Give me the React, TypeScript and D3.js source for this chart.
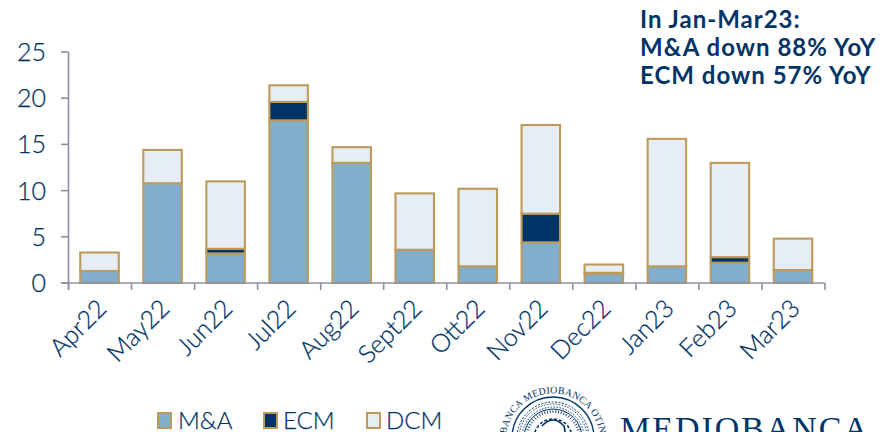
import React from "react";
import * as d3 from "d3";

const months = ["Apr22","May22","Jun22","Jul22","Aug22","Sept22","Ott22","Nov22","Dec22","Jan23","Feb23","Mar23"];
const mna = [1.3,10.8,3.2,17.6,13.0,3.6,1.8,4.4,1.0,1.8,2.2,1.4];
const ecm = [0,0,0.5,2.0,0,0,0,3.1,0.1,0,0.6,0];
const dcm = [2.0,3.6,7.3,1.8,1.7,6.1,8.4,9.6,0.9,13.8,10.2,3.4];
const yTicks = [0,5,10,15,20,25];
const seriesKeys = ["M&A","ECM","DCM"];
const colors = ["#82AECC","#003366","#E6EDF4"];
const note = ["In Jan-Mar23:","M&A down 88% YoY","ECM down 57% YoY"];
const sealTicks = d3.range(0, 360, 6);

const navy = "#003366";
const gold = "#BC9A5C";
const axisC = "#8E90A6";
const font = "Lato, 'Open Sans', sans-serif";
const sx = 553;
const sy = 438;

export default function App() {
  const y = d3.scaleLinear().domain([0, 25]).range([283, 52]);
  const left = 68.5;
  const rows = months.map((m, i) => ({ m, "M&A": mna[i], ECM: ecm[i], DCM: dcm[i] }));
  const stacked = d3.stack<any>().keys(seriesKeys)(rows);
  const edges = d3.range(months.length + 1).map((i) => left + (i * (825 - left)) / months.length);
  const bw = 38.5;
  const arc = d3.arc();
  return (
    <svg width={893} height={432} style={{ position: "absolute", left: 0, top: 0, background: "#fff" }}>
      <defs>
        <path id="sealText" d={`M ${sx - 46} ${sy + 12} A 47 47 0 1 1 ${sx + 46} ${sy + 12}`} />
      </defs>
      {stacked.map((s, si) =>
        s.map((d, i) => {
          if (d[1] - d[0] <= 0) return null;
          const cx = (edges[i] + edges[i + 1]) / 2 - 0.5;
          return (
            <rect key={`${si}-${i}`} x={cx - bw / 2} y={y(d[1])} width={bw} height={y(d[0]) - y(d[1])}
              fill={colors[si]} stroke={gold} strokeWidth={2.1} />
          );
        })
      )}
      <g stroke={axisC} strokeWidth={1.6} fill="none">
        <line x1={68.5} x2={68.5} y1={52} y2={290} />
        <line x1={61} x2={825} y1={283} y2={283} />
        {yTicks.map((t) => <line key={t} x1={61} x2={68.5} y1={y(t)} y2={y(t)} />)}
        {edges.map((e, i) => <line key={i} x1={e} x2={e} y1={283} y2={290} />)}
      </g>
      <g fill={navy} fontFamily={font} fontSize={25} fontWeight={300} stroke={navy} strokeWidth={0.25}>
        {yTicks.map((t) => (
          <text key={t} x={46} y={y(t) + 9} textAnchor="end">{t}</text>
        ))}
      </g>
      <g fill={navy} fontFamily={font} fontSize={25} fontWeight={300} stroke={navy} strokeWidth={0.25}>
        {months.map((m, i) => {
          const ex = (edges[i] + edges[i + 1]) / 2 + 8;
          return (
            <text key={m} transform={`translate(${ex},310) rotate(-45)`} textAnchor="end">{m}</text>
          );
        })}
      </g>
      <g fill={navy} fontFamily={font} fontWeight={700} fontSize={24}>
        {note.map((t, i) => <text key={t} x={640} y={27.5 + i * 28} letterSpacing={1}>{t}</text>)}
      </g>
      <g fontFamily={font} fontSize={24} fontWeight={300} fill={navy} stroke={navy} strokeWidth={0.25}>
        {seriesKeys.map((k, i) => {
          const lx = [158, 264, 367][i];
          return (
            <g key={k}>
              <rect x={lx} y={413} width={13} height={15} fill={colors[i]} stroke={gold} strokeWidth={2} />
              <text x={[178, 283, 386][i]} y={429}>{k}</text>
            </g>
          );
        })}
      </g>
      <g fill="none" stroke={navy}>
        <circle cx={sx} cy={sy} r={41} strokeWidth={1.4} />
        <circle cx={sx} cy={sy} r={36} strokeWidth={1} strokeDasharray="2 1.5" />
        <circle cx={sx} cy={sy} r={29} strokeWidth={1} />
        <circle cx={sx} cy={sy} r={19} strokeWidth={1.6} strokeDasharray="3 2" />
        <path d={`M ${sx - 11} ${sy - 12} q 11 -12 22 0 q 3 10 -4 14 M ${sx - 14} ${sy} q 5 -8 10 -2`} strokeWidth={1.6} />
        <path d={arc({ innerRadius: 31, outerRadius: 34, startAngle: -1.6, endAngle: 1.6 }) ?? ""}
          transform={`translate(${sx},${sy})`} strokeWidth={1} strokeDasharray="1.5 1.5" />
      </g>
      <g stroke={navy} strokeWidth={0.8}>
        {sealTicks.map((a) => (
          <line key={a} x1={sx} x2={sx} y1={sy - 25} y2={sy - 28} transform={`rotate(${a} ${sx} ${sy})`} />
        ))}
      </g>
      <text fontFamily="'Liberation Serif', serif" fontSize={10} fill={navy} letterSpacing={0.2} textAnchor="middle">
        <textPath href="#sealText" startOffset="50%">BANCA MEDIOBANCA OTIN</textPath>
      </text>
      <text x={620} y={439.5} fontFamily="'Liberation Serif', serif" fontSize={34} fill={navy} textLength={248} lengthAdjust="spacing">MEDIOBANCA</text>
    </svg>
  );
}
